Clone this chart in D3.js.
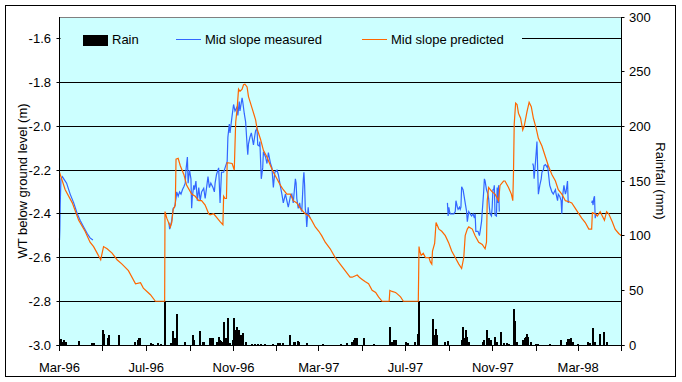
<!DOCTYPE html>
<html><head><meta charset="utf-8">
<script src="https://cdn.jsdelivr.net/npm/d3@7"></script>
<style>
body{margin:0;background:#fff}
svg{display:block}
text{font-family:"Liberation Sans",Arial,sans-serif;fill:#000}
</style>
</head><body>
<svg id="chart" width="682" height="382"></svg>
<script>
// ---------- DATA (days counted from startDate) ----------
const startDate = "1996-03-01";
const endDate = "1998-05-01";

const rainDay = [2,4,6,9,28,46,48,61,63,68,70,84,106,110,112,114,129,132,138,143,148,157,160,162,164,166,176,188,190,198,202,204,212,214,216,221,224,226,227,229,232,234,237,240,244,246,248,250,252,256,258,263,271,275,279,284,289,300,308,311,314,325,330,332,335,337,348,371,396,404,412,414,416,418,419,428,442,465,468,471,473,487,491,501,504,506,526,528,530,532,542,547,566,568,570,572,574,576,596,598,601,602,604,608,613,616,622,626,630,633,639,641,644,653,655,657,658,660,664,670,674,691,706,714,716,719,720,723,730,744,746,751,754,761,767,770];
const rainMm = [5.5,3,4.6,3,3.7,1.5,2,13.7,9.8,6.7,9,9,3,4.6,6,6.7,1.5,1.2,1.5,1,39,1.5,12.8,6,5.5,28,3,9,4.6,12.8,2.4,3,6,6.7,6,3,7.6,4.6,3.7,3,21,6,25,1.5,4.6,25,13.7,16.5,13.7,9,10.7,3,1.2,1.2,1.2,1.2,1.2,0.6,1.5,1.5,1.5,9,2.4,3,3.7,2.4,1.5,0.6,0.6,1.5,3,4.6,6,3.7,6,6.7,0.6,16.5,3,4.6,4.6,2.4,1.5,3,9.8,39,24,9,15,9,3,3.7,4.6,16.5,6,13.4,7.6,3,3,4.6,6,13.7,6,4.6,7.6,3,12.2,1.5,1.5,1.2,33,22,3,4.6,6,7.6,9.8,7.6,3,0.9,0.9,0.6,4.6,3,5.5,5.5,6,3,0.6,3,1.5,16,3,9.8,12.2,3];

const predDay = [0,8,18,27,36,43,48,53,58,62,67,74,81,88,97,107,114,118,128,135,148,148.5,151,156,158,160,163,164,167,170,175,179,186,191,196,200,205,210,212,217,222,226,230,231,233,235,236,243,246,247,248,250,252,254,257,259,261,264,266,271,276,278,283,287,292,297,301,306,311,315,320,325,329,334,339,346,351,355,360,365,369,374,381,388,395,402,409,412,419,422,426,430,435,440,445,449,454,464,465,468,473,475,480,484,505,505.5,506,507,509,512,515,518,520,522,524,525,528,530,534,538,543,548,552,557,562,566,569,571,574,576,581,585,590,595,599,601,602,604,609,613,618,620,625,627,632,636,638,639,640,642,644,646,649,652,654,658,661,664,667,671,674,679,684,688,693,698,702,707,712,717,721,726,731,735,740,745,749,750,754,757,759,761,764,767,770,773,778,782,787,791];
const predWT = [-2.21,-2.29,-2.35,-2.43,-2.48,-2.53,-2.55,-2.58,-2.61,-2.55,-2.56,-2.58,-2.61,-2.63,-2.66,-2.72,-2.715,-2.74,-2.77,-2.80,-2.80,-2.39,-2.42,-2.46,-2.44,-2.38,-2.36,-2.15,-2.146,-2.18,-2.22,-2.27,-2.31,-2.32,-2.34,-2.34,-2.36,-2.40,-2.405,-2.40,-2.42,-2.436,-2.45,-2.32,-2.33,-2.33,-2.166,-2.17,-2.20,-2.085,-1.98,-1.92,-1.83,-1.84,-1.83,-1.81,-1.807,-1.82,-1.864,-1.917,-1.97,-2.01,-2.06,-2.11,-2.14,-2.18,-2.21,-2.24,-2.27,-2.29,-2.31,-2.31,-2.34,-2.35,-2.375,-2.40,-2.41,-2.43,-2.46,-2.48,-2.50,-2.53,-2.56,-2.60,-2.63,-2.66,-2.69,-2.69,-2.68,-2.69,-2.70,-2.71,-2.72,-2.75,-2.76,-2.78,-2.80,-2.80,-2.75,-2.755,-2.76,-2.765,-2.78,-2.80,-2.80,-2.68,-2.55,-2.57,-2.59,-2.58,-2.60,-2.60,-2.60,-2.62,-2.63,-2.57,-2.535,-2.44,-2.47,-2.48,-2.50,-2.535,-2.57,-2.60,-2.63,-2.65,-2.60,-2.50,-2.47,-2.46,-2.47,-2.50,-2.53,-2.54,-2.56,-2.53,-2.34,-2.28,-2.30,-2.31,-2.34,-2.27,-2.25,-2.25,-2.28,-2.31,-2.34,-2.21,-1.99,-1.894,-1.90,-1.94,-1.963,-2.017,-2.00,-1.933,-1.89,-1.91,-1.963,-2.01,-2.055,-2.09,-2.14,-2.18,-2.22,-2.25,-2.29,-2.31,-2.34,-2.345,-2.35,-2.375,-2.40,-2.42,-2.44,-2.47,-2.47,-2.395,-2.40,-2.41,-2.40,-2.39,-2.41,-2.43,-2.39,-2.40,-2.436,-2.47,-2.49,-2.50];

// measured: null marks a gap in the record
const measDay = [0,0.5,1,2,4,6,10,15,20,25,29,34,39,43,47,
  48,
  154,155,156,158,160,162,164,165,167,169,171,173,175,177,178,180,181,183,185,186,187,189,190,192,194,196,198,200,203,205,207,209,211,213,216,218,219,221,224,226,228,231,233,236,237,239,240,243,245,247,250,251,253,254,257,258,260,261,262,264,265,266,268,270,273,275,276,278,279,281,282,284,286,287,290,292,294,297,299,301,303,306,308,311,313,315,318,320,322,325,327,329,332,333,334,336,338,339,341,343,344,345,346,347,348,350,351,353,
  354,
  546,547,548,549,550,553,555,557,558,560,561,563,564,565,566,568,569,571,573,574,576,578,580,582,584,585,586,589,591,592,594,595,597,598,599,601,603,604,605,606,608,609,610,611,612,613,615,616,617,618,619,
  620,
  666,667,668,670,671,672,673,674,676,678,679,681,682,684,686,687,688,690,691,693,695,698,699,701,702,704,706,707,708,710,712,713,715,716,717,
  718,
  749,750,751,752,753,754,755,756];
const measWT = [-2.52,-2.47,-2.36,-2.24,-2.23,-2.24,-2.26,-2.31,-2.35,-2.40,-2.43,-2.46,-2.49,-2.51,-2.52,
  null,
  -2.44,-2.47,-2.46,-2.43,-2.375,-2.37,-2.33,-2.30,-2.32,-2.30,-2.31,-2.29,-2.276,-2.26,-2.20,-2.14,-2.26,-2.20,-2.24,-2.375,-2.32,-2.27,-2.29,-2.25,-2.34,-2.28,-2.34,-2.30,-2.283,-2.33,-2.28,-2.23,-2.28,-2.26,-2.28,-2.30,-2.26,-2.22,-2.19,-2.35,-2.21,-2.21,-2.19,-2.16,-2.05,-1.99,-2.03,-1.95,-1.90,-1.93,-1.91,-1.95,-1.887,-1.93,-1.87,-1.89,-1.94,-1.96,-1.98,-2.085,-2.13,-2.08,-2.05,-2.03,-2.085,-2.04,-2.02,-2.01,-2.085,-2.09,-2.07,-2.24,-2.19,-2.116,-2.14,-2.17,-2.12,-2.17,-2.19,-2.28,-2.21,-2.20,-2.22,-2.276,-2.31,-2.35,-2.31,-2.34,-2.37,-2.32,-2.31,-2.35,-2.24,-2.26,-2.33,-2.375,-2.35,-2.37,-2.39,-2.25,-2.21,-2.27,-2.38,-2.40,-2.46,-2.37,-2.405,-2.42,
  null,
  -2.35,-2.41,-2.37,-2.39,-2.40,-2.40,-2.40,-2.39,-2.34,-2.37,-2.38,-2.37,-2.38,-2.37,-2.276,-2.29,-2.31,-2.35,-2.39,-2.436,-2.39,-2.40,-2.41,-2.40,-2.42,-2.40,-2.48,-2.48,-2.50,-2.48,-2.436,-2.39,-2.30,-2.24,-2.25,-2.29,-2.31,-2.33,-2.37,-2.40,-2.41,-2.37,-2.29,-2.29,-2.27,-2.405,-2.41,-2.28,-2.35,-2.27,-2.39,
  null,
  -2.17,-2.18,-2.24,-2.16,-2.116,-2.07,-2.19,-2.31,-2.27,-2.24,-2.21,-2.20,-2.18,-2.175,-2.185,-2.18,-2.21,-2.27,-2.28,-2.30,-2.31,-2.29,-2.31,-2.34,-2.31,-2.32,-2.34,-2.40,-2.32,-2.27,-2.31,-2.30,-2.25,-2.35,-2.34,
  null,
  -2.35,-2.34,-2.36,-2.33,-2.32,-2.42,-2.40,-2.41];

const wtTicks = [-3.0,-2.8,-2.6,-2.4,-2.2,-2.0,-1.8,-1.6];
const rainTicks = [0,50,100,150,200,250,300];
const monthTicks = ["1996-03-01","1996-05-01","1996-07-01","1996-09-01","1996-11-01","1997-01-01","1997-03-01","1997-05-01","1997-07-01","1997-09-01","1997-11-01","1998-01-01","1998-03-01","1998-05-01"];
const monthLabels = ["Mar-96","","Jul-96","","Nov-96","","Mar-97","","Jul-97","","Nov-97","","Mar-98",""];
const seriesNames = ["Rain","Mid slope measured","Mid slope predicted"];

// ---------- LAYOUT ----------
const L = 59.5, R = 621.5, T = 17, B = 345;
const BG = "#CCFFFF", BLUE = "#3366FF", ORANGE = "#FF6600";

const svg = d3.select("#chart");
const parse = d3.utcParse("%Y-%m-%d");
const t0 = parse(startDate);
const toDate = d => new Date(t0.getTime() + d * 864e5);

const x = d3.scaleUtc().domain([t0, parse(endDate)]).range([L, R]);
const yL = d3.scaleLinear().domain([-3.0, -1.5]).range([B, T]);
const yR = d3.scaleLinear().domain([0, 300]).range([B, T]);
const crisp = v => Math.floor(v) + 0.5;

// outer border
svg.append("rect").attr("x", 5.5).attr("y", 5.5).attr("width", 670).attr("height", 371)
  .attr("fill", "#fff").attr("stroke", "#000").attr("stroke-width", 1);

// plot background
svg.append("rect").attr("x", L).attr("y", T).attr("width", R - L).attr("height", B - T).attr("fill", BG);

// gridlines
svg.append("g").selectAll("line").data(wtTicks.filter(v => v > -3.0)).join("line")
  .attr("x1", L).attr("x2", R)
  .attr("y1", d => crisp(yL(d))).attr("y2", d => crisp(yL(d)))
  .attr("stroke", "#000").attr("stroke-width", 1);

// top border gray
svg.append("line").attr("x1", L).attr("x2", R).attr("y1", T + 0.5).attr("y2", T + 0.5)
  .attr("stroke", "#808080");

// rain bars
const rain = rainDay.map((d, i) => ({date: toDate(d), v: rainMm[i]}));
svg.append("g").attr("shape-rendering", "crispEdges").selectAll("rect").data(rain).join("rect")
  .attr("x", d => Math.round(x(d.date)) - 1)
  .attr("width", 2)
  .attr("y", d => yR(d.v))
  .attr("height", d => B - yR(d.v))
  .attr("fill", "#000");

// lines
const meas = measDay.map((d, i) => ({date: toDate(d), v: measWT[i]}));
const pred = predDay.map((d, i) => ({date: toDate(d), v: predWT[i]}));
const line = d3.line().defined(d => d.v != null).x(d => x(d.date)).y(d => yL(d.v));

svg.append("path").datum(meas).attr("d", line).attr("fill", "none")
  .attr("stroke", BLUE).attr("stroke-width", 1.2).attr("stroke-linejoin", "miter");
svg.append("path").datum(pred).attr("d", line).attr("fill", "none")
  .attr("stroke", ORANGE).attr("stroke-width", 1.2).attr("stroke-linejoin", "miter");

// axes lines
svg.append("line").attr("x1", L).attr("x2", L).attr("y1", T).attr("y2", B).attr("stroke", "#000");
svg.append("line").attr("x1", R).attr("x2", R).attr("y1", T).attr("y2", B).attr("stroke", "#000");
svg.append("line").attr("x1", L - 3).attr("x2", R + 3).attr("y1", B + 0.5).attr("y2", B + 0.5).attr("stroke", "#000");

// left ticks and labels
const gl = svg.append("g");
gl.selectAll("line").data(wtTicks).join("line")
  .attr("x1", L - 3).attr("x2", L + 4)
  .attr("y1", d => crisp(yL(d))).attr("y2", d => crisp(yL(d))).attr("stroke", "#000");
gl.selectAll("text").data(wtTicks).join("text")
  .attr("x", 51).attr("y", d => yL(d)).attr("dy", "0.35em")
  .attr("text-anchor", "end").attr("font-size", 13)
  .text(d => d3.format(".1f")(d).replace("−", "-"));

// right ticks and labels
const gr = svg.append("g");
gr.selectAll("line").data(rainTicks).join("line")
  .attr("x1", R).attr("x2", R + 3)
  .attr("y1", d => crisp(yR(d))).attr("y2", d => crisp(yR(d))).attr("stroke", "#000");
gr.selectAll("text").data(rainTicks).join("text")
  .attr("x", 629).attr("y", d => yR(d)).attr("dy", "0.35em")
  .attr("text-anchor", "start").attr("font-size", 13)
  .text(d => d);

// bottom ticks and labels
const gb = svg.append("g");
const mt = monthTicks.map(parse);
gb.selectAll("line").data(mt).join("line")
  .attr("x1", d => crisp(x(d))).attr("x2", d => crisp(x(d)))
  .attr("y1", B).attr("y2", B + 6).attr("stroke", "#000");
gb.selectAll("text").data(mt).join("text")
  .attr("x", d => x(d)).attr("y", 372)
  .attr("text-anchor", "middle").attr("font-size", 13)
  .text((d, i) => monthLabels[i]);

// axis titles
svg.append("text").attr("transform", "translate(22," + ((T + B) / 2) + ") rotate(-90)")
  .attr("text-anchor", "middle").attr("dy", "0.35em").attr("font-size", 13)
  .text("WT below ground level (m)");
svg.append("text").attr("transform", "translate(661," + ((T + B) / 2) + ") rotate(90)")
  .attr("text-anchor", "middle").attr("dy", "0.35em").attr("font-size", 13)
  .text("Rainfall (mm)");

// legend
const lg = svg.append("g");
lg.append("rect").attr("x", L + 1).attr("y", 30).attr("width", 521 - L).attr("height", 18).attr("fill", BG);
const ly = 39;
lg.append("rect").attr("x", 83).attr("y", 35).attr("width", 25).attr("height", 11).attr("fill", "#000");
lg.append("text").attr("x", 112).attr("y", ly).attr("dy", "0.35em").attr("font-size", 13).text(seriesNames[0]);
lg.append("line").attr("x1", 176).attr("x2", 201).attr("y1", ly + 0.5).attr("y2", ly + 0.5).attr("stroke", BLUE);
lg.append("text").attr("x", 205).attr("y", ly).attr("dy", "0.35em").attr("font-size", 13).text(seriesNames[1]);
lg.append("line").attr("x1", 362).attr("x2", 387).attr("y1", ly + 0.5).attr("y2", ly + 0.5).attr("stroke", ORANGE);
lg.append("text").attr("x", 391).attr("y", ly).attr("dy", "0.35em").attr("font-size", 13).text(seriesNames[2]);
</script>
</body></html>
